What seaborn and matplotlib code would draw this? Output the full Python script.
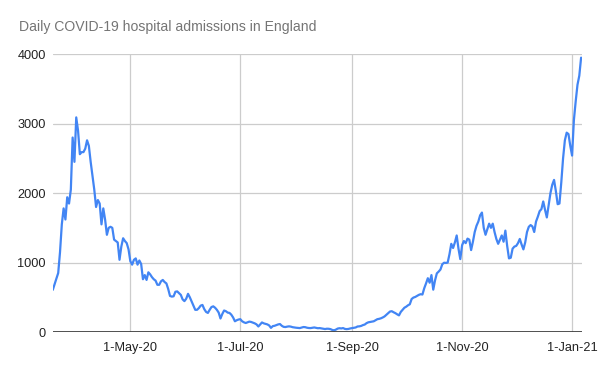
import pandas as pd
import seaborn as sns
import matplotlib.pyplot as plt

# daily admissions, one value per day starting 19 March 2020
start_date = "2020-03-19"
admissions = [
    607, 690, 770, 850, 1150, 1550, 1780, 1620, 1940, 1850,
    2050, 2800, 2450, 3090, 2900, 2560, 2590, 2590, 2640, 2760,
    2680, 2450, 2250, 2050, 1800, 1900, 1850, 1550, 1780, 1620,
    1400, 1500, 1515, 1500, 1330, 1310, 1290, 1040, 1230, 1350,
    1310, 1280, 1190, 1020, 970, 1040, 1060, 970, 1030, 980,
    760, 820, 750, 860, 830, 790, 760, 740, 680, 680,
    730, 750, 720, 700, 620, 520, 510, 515, 580, 585,
    560, 535, 470, 445, 480, 550, 500, 440, 380, 320,
    320, 345, 380, 390, 330, 290, 275, 320, 360, 370,
    350, 320, 280, 195, 260, 310, 300, 280, 275, 250,
    210, 155, 170, 180, 185, 155, 140, 130, 140, 150,
    145, 135, 125, 110, 80, 110, 138, 125, 118, 110,
    95, 60, 85, 90, 100, 110, 115, 90, 75, 72,
    78, 82, 78, 70, 66, 62, 60, 57, 65, 72,
    70, 62, 58, 57, 62, 66, 60, 55, 57, 52,
    46, 43, 48, 47, 42, 30, 25, 35, 50, 55,
    52, 57, 45, 42, 45, 52, 57, 62, 66, 80,
    82, 88, 100, 108, 128, 140, 145, 150, 155, 170,
    185, 190, 198, 210, 225, 248, 270, 295, 300, 285,
    272, 255, 240, 290, 320, 350, 365, 385, 400, 475,
    496, 505, 520, 535, 545, 540, 630, 700, 775, 710,
    820, 610, 745, 845, 870, 900, 975, 998, 995, 1000,
    1120, 1270, 1210, 1290, 1390, 1200, 1050, 1250, 1310, 1280,
    1345, 1330, 1180, 1300, 1440, 1530, 1590, 1680, 1720, 1500,
    1400, 1480, 1560, 1500, 1560, 1440, 1340, 1270, 1330, 1390,
    1300, 1460, 1240, 1060, 1070, 1200, 1230, 1240, 1280, 1340,
    1260, 1190, 1290, 1440, 1515, 1540, 1520, 1440, 1590, 1660,
    1740, 1770, 1880, 1760, 1650, 1826, 2000, 2120, 2190, 2030,
    1840, 1850, 2150, 2500, 2760, 2870, 2850, 2680, 2540, 3050,
    3320, 3560, 3690, 3950,
]
tick_dates = ["2020-05-01", "2020-07-01", "2020-09-01", "2020-11-01", "2021-01-01"]
tick_labels = ["1-May-20", "1-Jul-20", "1-Sep-20", "1-Nov-20", "1-Jan-21"]
y_ticks = [0, 1000, 2000, 3000, 4000]

df = pd.DataFrame({
    "date": pd.date_range(start_date, periods=len(admissions), freq="D"),
    "admissions": admissions,
})

sns.set_style("white")
plt.rcParams["font.family"] = ["Liberation Sans", "DejaVu Sans"]

fig = plt.figure(figsize=(6, 3.71), dpi=100)
ax = fig.add_axes([0.088, 0.105, 0.882, 0.749])

sns.lineplot(data=df, x="date", y="admissions", color="#4285F4", linewidth=1.6, ax=ax)

ax.set_ylim(0, 4000)
ax.set_xlim(df["date"].iloc[0], df["date"].iloc[-1] + pd.Timedelta(hours=12))
ax.set_yticks(y_ticks)
ax.set_yticklabels([str(v) for v in y_ticks])
ax.set_xticks(pd.to_datetime(tick_dates))
ax.set_xticklabels(tick_labels)

ax.grid(True, color="#cccccc", linewidth=0.9)
ax.axhline(0, color="#333333", linewidth=1.2, zorder=3)
for s in ax.spines.values():
    s.set_visible(False)
ax.tick_params(axis="both", length=0, labelsize=9.2, colors="#222222")
ax.tick_params(axis="y", pad=5)
ax.tick_params(axis="x", pad=7)
ax.set_xlabel("")
ax.set_ylabel("")

fig.text(0.032, 0.927, "Daily COVID-19 hospital admissions in England",
         fontsize=10.1, color="#757575", va="center", ha="left")

fig.savefig("out.png", dpi=100)
